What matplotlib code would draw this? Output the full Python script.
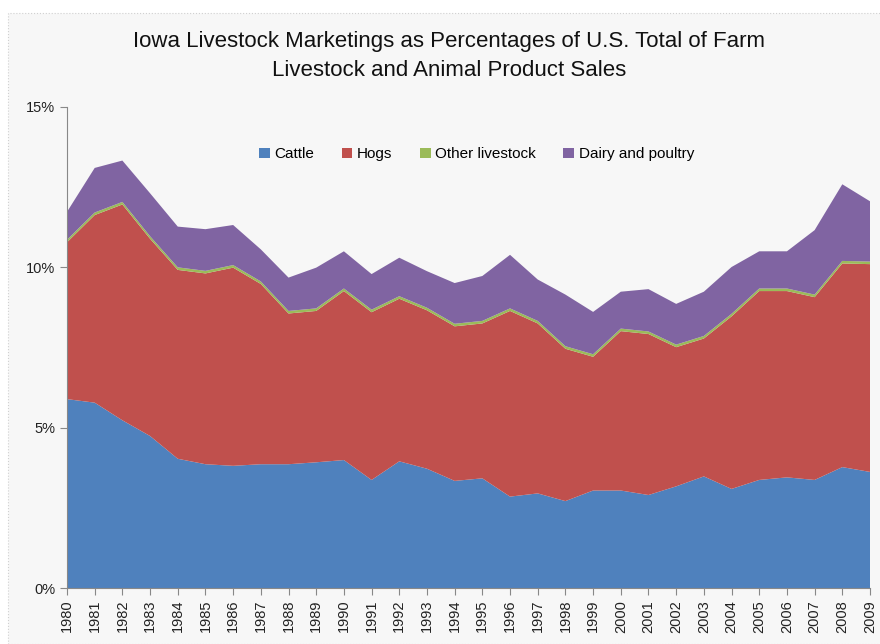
import matplotlib.pyplot as plt
from matplotlib.patches import Rectangle

plt.rcParams['font.family'] = ['Liberation Sans', 'DejaVu Sans']

years = list(range(1980, 2010))

# percent of U.S. total
cattle = [5.89, 5.78, 5.23, 4.74, 4.03, 3.86, 3.81, 3.86, 3.86, 3.92,
          3.99, 3.37, 3.95, 3.72, 3.34, 3.42, 2.85, 2.95, 2.71, 3.04,
          3.04, 2.90, 3.17, 3.48, 3.09, 3.37, 3.45, 3.37, 3.77, 3.62]
hogs_top = [10.78, 11.63, 11.96, 10.89, 9.92, 9.81, 9.99, 9.48, 8.56, 8.64,
            9.26, 8.60, 9.02, 8.66, 8.16, 8.25, 8.64, 8.25, 7.46, 7.21,
            8.01, 7.92, 7.51, 7.78, 8.47, 9.26, 9.26, 9.07, 10.12, 10.10]
other = [0.08] * 30
total = [11.73, 13.10, 13.33, 12.31, 11.27, 11.19, 11.32, 10.56, 9.68, 9.99,
         10.50, 9.79, 10.30, 9.88, 9.51, 9.73, 10.39, 9.62, 9.15, 8.61,
         9.24, 9.32, 8.86, 9.24, 10.01, 10.50, 10.50, 11.16, 12.59, 12.06]

hogs = [h - c for h, c in zip(hogs_top, cattle)]
dairy = [t - h - o for t, h, o in zip(total, hogs_top, other)]

labels = ['Cattle', 'Hogs', 'Other livestock', 'Dairy and poultry']
colors = ['#4f81bd', '#c0504d', '#9bbb59', '#8064a2']

fig = plt.figure(figsize=(8.8, 6.44), dpi=100)
fig.patch.set_facecolor('white')
fig.patches.append(Rectangle((8 / 880, 0), 1, 1 - 13 / 644, transform=fig.transFigure,
                             facecolor='#f7f7f7', edgecolor='#d0d0d0', linewidth=0.8,
                             linestyle=':', zorder=-1))

ax = fig.add_axes([67 / 880, 56 / 644, (870 - 67) / 880, (588 - 107) / 644])
ax.set_facecolor('#f7f7f7')

ax.stackplot(years, cattle, hogs, other, dairy, labels=labels, colors=colors, linewidth=0)

ax.set_xlim(1980, 2009)
ax.set_ylim(0, 15)
ax.set_yticks([0, 5, 10, 15])
ax.set_yticklabels(['0%', '5%', '10%', '15%'], fontsize=10.5, color='#222222')
ax.set_xticks(years)
ax.set_xticklabels([str(y) for y in years], rotation=90, fontsize=10.5, color='#222222')
ax.tick_params(axis='both', direction='out', color='#888888', length=5)

for s in ['top', 'right']:
    ax.spines[s].set_visible(False)
for s in ['left', 'bottom']:
    ax.spines[s].set_color('#888888')

leg = ax.legend(loc='upper center', bbox_to_anchor=(0.51, 0.945), ncol=4, frameon=False,
                fontsize=11, handlelength=0.7, handleheight=0.7, handletextpad=0.3,
                columnspacing=1.8)

fig.text(0.51, 0.913, 'Iowa Livestock Marketings as Percentages of U.S. Total of Farm\n'
         'Livestock and Animal Product Sales', ha='center', va='center',
         fontsize=16, linespacing=1.5, color='#111111')

fig.savefig('out.png', dpi=100, facecolor=fig.get_facecolor())
